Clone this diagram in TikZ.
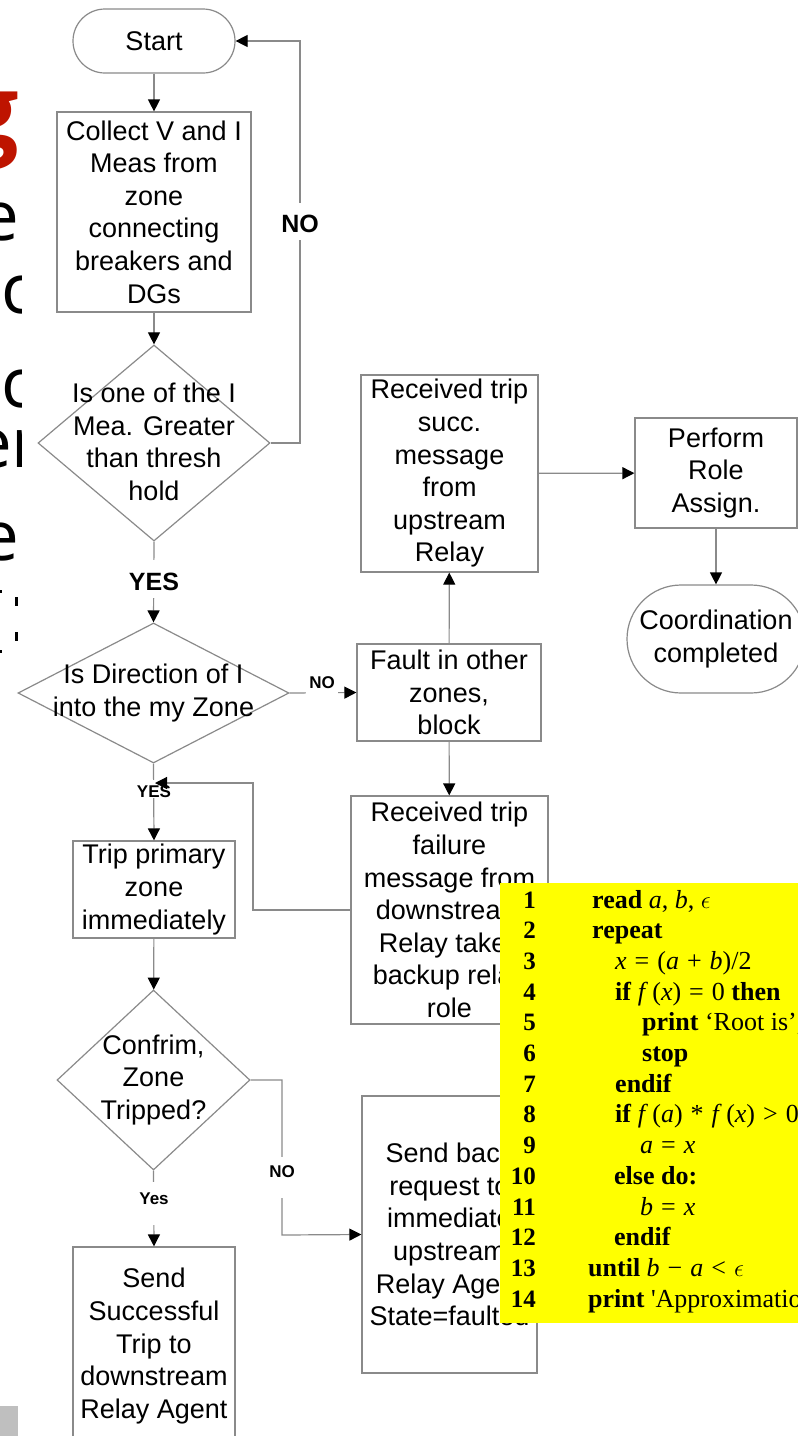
\documentclass[tikz,border=0pt]{standalone}
\usepackage{fontspec}
\setmainfont{Liberation Sans}
\newfontfamily\codefont{Liberation Serif}
\newfontfamily\slidefont{Open Sans}
\usetikzlibrary{arrows.meta,shapes.geometric}
\definecolor{ln}{HTML}{8A8A8A}
\definecolor{slidered}{RGB}{190,20,0}
\definecolor{codeyellow}{RGB}{255,255,0}
\newcommand\flowfs{\fontsize{27}{32.6}\selectfont}
\newcommand\op[1]{\hspace{8pt}#1\hspace{8pt}}
\newcommand\codeln[3]{%
  \node[codenum] (c#1n) at (536,{908+30.7*(#1-1)}) {#1};
  \node[codetxt] (c#1t) at (#2,{908+30.7*(#1-1)}) {#3};}
\begin{document}
\begin{tikzpicture}[x=1pt,y=-1pt,
  box/.style={draw=ln, line width=1.2pt, align=center, inner sep=0pt, font=\flowfs, fill=white},
  term/.style={box},
  dia/.style={draw=ln, line width=1.2pt, shape=diamond, inner sep=0pt, fill=white},
  diatext/.style={align=center, inner sep=0pt, font=\flowfs},
  conn/.style={draw=ln, line width=1.2pt, -{Triangle[length=12pt,width=12pt,color=black]}},
  biglab/.style={fill=white, anchor=base, inner xsep=3pt, inner ysep=0pt, font=\bfseries\fontsize{25}{25}\selectfont},
  smlab/.style={fill=white, anchor=base, inner xsep=3pt, inner ysep=0pt, font=\bfseries\fontsize{17}{17}\selectfont},
  codenum/.style={anchor=base east, inner sep=0pt, font=\codefont\bfseries\fontsize{25}{25}\selectfont},
  codetxt/.style={anchor=base west, inner sep=0pt, font=\codefont\fontsize{26}{26}\selectfont},
  frag/.style={inner sep=0pt, font=\slidefont\fontsize{69}{69}\selectfont}
]
\useasboundingbox (0,0) rectangle (798,1436);

% left-edge slide fragments
\begin{scope}
  \clip (0,0) rectangle (21,700);
  \node[frag, anchor=base east, text=slidered, font=\slidefont\bfseries\fontsize{100}{100}\selectfont] (fg) at (19,146) {g};
  \node[frag, anchor=base east] (fe1) at (19,240) {e};
  \node[frag, anchor=base west] (fc1) at (1,313) {c};
  \node[frag, anchor=base west] (fc2) at (1,407) {c};
  \node[frag, anchor=base west] (fer) at (-27,467) {er};
  \node[frag, anchor=base east] (fe2) at (19,560) {e};
\end{scope}
\fill (15,597) rectangle (18,606);
\fill (15,632) rectangle (18,641);
\fill (0,590) rectangle (2,593);
\fill (0,650) rectangle (2,653);
\fill[black!25] (0,1406) rectangle (18,1436);

% nodes
\node[term, rounded corners=32pt, minimum width=162pt, minimum height=64pt] (start) at (154,41) {Start};
\node[box, minimum width=194pt, minimum height=200pt] (collect) at (154,212) {Collect V and I\\Meas from\\zone\\connecting\\breakers and\\DGs};
\node[dia, minimum width=232pt, minimum height=196pt] (d1) at (154,443) {};
\node[diatext] (d1t) at (154,442) {Is one of the I\\Mea. Greater\\than thresh\\hold};
\node[dia, minimum width=271pt, minimum height=140pt] (d2) at (153.5,693) {};
\node[diatext] (d2t) at (153.5,693) {Is Direction of I\\into the my Zone};
\node[box, minimum width=177pt, minimum height=197pt] (succ) at (449.5,473.5) {Received trip\\succ.\\message\\from\\upstream\\Relay};
\node[box, minimum width=162pt, minimum height=110pt] (perform) at (716,473) {Perform\\Role\\Assign.};
\node[term, rounded corners=54pt, minimum width=178pt, minimum height=108pt] (coord) at (716,639) {Coordination\\completed};
\node[box, minimum width=184pt, minimum height=97pt] (fault) at (449,692.5) {Fault in other\\zones,\\block};
\node[box, minimum width=197pt, minimum height=228pt] (fail) at (449.5,910) {Received trip\\failure\\message from\\downstream\\Relay takes\\backup relay\\role};
\node[box, minimum width=162pt, minimum height=97pt] (trip) at (154,889.5) {Trip primary\\zone\\immediately};
\node[dia, minimum width=193pt, minimum height=180pt] (d3) at (153.5,1080) {};
\node[diatext] (d3t) at (153.5,1080) {Confrim,\\Zone\\Tripped?};
\node[box, minimum width=175pt, minimum height=277pt] (send) at (449.5,1234.5) {Send back\\request to\\immediate\\upstream\\Relay Agent\\State=faulted};
\node[box, minimum width=162pt, minimum height=198pt] (succ2) at (154,1346) {Send\\Successful\\Trip to\\downstream\\Relay Agent};

% turn points
\coordinate (r1) at (300,443);
\coordinate (r2) at (300,41);
\coordinate (l1) at (253,910);
\coordinate (l2) at (253,783);
\coordinate (m1) at (155,783);
\coordinate (n1) at (282,1080);
\coordinate (n2) at (282,1235);

% connectors
\draw[conn] (start) -- (collect);
\draw[conn] (collect) -- (d1);
\draw[conn] (d1.east) -- (r1) -- (r2) -- (start.east);
\node[biglab, text height=29pt, text depth=8pt] (no1) at (300,232) {NO};
\draw[conn] (d1.south) -- (d2.north);
\node[biglab, text height=30pt, text depth=8pt] (yes1) at (154,590) {YES};
\draw[conn] (d2.east) -- (fault.west);
\node[smlab, text height=14pt, text depth=7pt] (no2) at (322,688) {NO};
\draw[conn] (fault) -- (succ);
\draw[conn] (succ) -- (perform);
\draw[conn] (perform) -- (coord);
\draw[conn] (fault) -- (fail);
\draw[conn] (d2.south) -- (trip.north);
\node[smlab, text height=17pt, text depth=1pt] (yes2) at (154,797) {YES};
\draw[conn] (fail.west) -- (l1) -- (l2) -- (m1);
\draw[conn] (trip) -- (d3);
\draw[conn] (d3.east) -- (n1) -- (n2) -- (send.west);
\node[smlab, text height=20pt, text depth=21pt] (no3) at (282,1177) {NO};
\draw[conn] (d3.south) -- (succ2.north);
\node[smlab, text height=22pt, text depth=21pt] (yes3) at (154,1204) {Yes};

% code listing
\begin{scope}
  \clip (500,883) rectangle (798,1323);
  \fill[codeyellow] (500,883) rectangle (798,1323);
  \codeln{1}{592}{\textbf{read} \textit{a}, \textit{b}, $\epsilon$}
  \codeln{2}{592}{\textbf{repeat}}
  \codeln{3}{615}{\textit{x}\op{=}(\textit{a}\op{+}\textit{b})/2}
  \codeln{4}{615}{\textbf{if} \textit{f}\,(\textit{x})\op{=}0 \textbf{then}}
  \codeln{5}{642}{\textbf{print} ‘Root is’, \textit{x}}
  \codeln{6}{642}{\textbf{stop}}
  \codeln{7}{615}{\textbf{endif}}
  \codeln{8}{615}{\textbf{if} \textit{f}\,(\textit{a})\op{*}\textit{f}\,(\textit{x})\op{>}0}
  \codeln{9}{640}{\textit{a}\op{=}\textit{x}}
  \codeln{10}{614}{\textbf{else do:}}
  \codeln{11}{640}{\textit{b}\op{=}\textit{x}}
  \codeln{12}{614}{\textbf{endif}}
  \codeln{13}{588}{\textbf{until} \textit{b}\op{−}\textit{a}\op{<}$\epsilon$}
  \codeln{14}{588}{\textbf{print} 'Approximation}
\end{scope}
\end{tikzpicture}
\end{document}
